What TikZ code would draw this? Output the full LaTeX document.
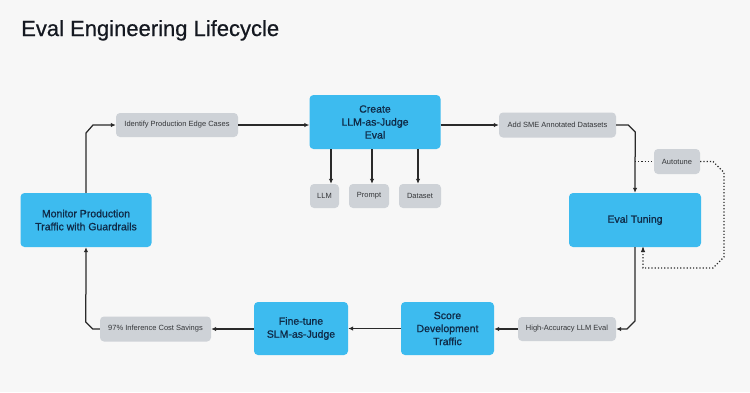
\documentclass[tikz,border=0pt]{standalone}
\usepackage{fontspec}
\setmainfont{Liberation Sans}
\newfontfamily\medfont{Liberation Sans}[FakeBold=0.9]
\newfontfamily\titlefont{Liberation Sans}[FakeBold=0.6]
\usetikzlibrary{arrows.meta}
\definecolor{bg}{HTML}{F7F7F7}
\definecolor{boxblue}{HTML}{3DBBEF}
\definecolor{navy}{HTML}{0F2A47}
\definecolor{boxgray}{HTML}{CED2D7}
\definecolor{graytext}{HTML}{333538}
\definecolor{linec}{HTML}{2A2A2A}
\definecolor{titlec}{HTML}{141820}
\tikzset{
  bluebox/.style={fill=boxblue, rounded corners=4pt, text=navy, align=center, inner sep=0pt,
    font=\medfont\fontsize{10.5}{13}\selectfont},
  graybox/.style={fill=boxgray, rounded corners=4pt, text=graytext, inner sep=0pt,
    font=\fontsize{7.5}{9}\selectfont},
  conn/.style={draw=linec, line width=1.25pt, -{Latex[length=5pt,width=4.5pt]}},
  dotconn/.style={draw=linec, line width=1.2pt, dotted},
}
\begin{document}
\begin{tikzpicture}[x=1pt,y=-1pt]
\fill[bg] (0,0) rectangle (750,392);
\node[anchor=base west, font=\titlefont\fontsize{22}{26}\selectfont, text=titlec, inner sep=0pt] (title) at (21,36) {Eval Engineering Lifecycle};

\node[bluebox, minimum width=131pt, minimum height=54pt] (create) at (375,122) {Create\\LLM-as-Judge\\Eval};
\node[bluebox, minimum width=132pt, minimum height=54pt] (tuning) at (635,220) {Eval Tuning};
\node[bluebox, minimum width=93pt, minimum height=53pt] (score) at (447.5,328.5) {Score\\Development\\Traffic};
\node[bluebox, minimum width=94pt, minimum height=53pt] (fine) at (301,328.5) {Fine-tune\\SLM-as-Judge};
\node[bluebox, minimum width=131pt, minimum height=54pt] (monitor) at (86,220) {Monitor Production\\Traffic with Guardrails};

\node[graybox, minimum width=122pt, minimum height=24pt] (identify) at (177,125) {Identify Production Edge Cases};
\node[graybox, minimum width=117pt, minimum height=25pt] (sme) at (557.5,125) {Add SME Annotated Datasets};
\node[graybox, minimum width=46pt, minimum height=25pt] (autotune) at (677,161.5) {Autotune};
\node[graybox, minimum width=98pt, minimum height=24pt] (high) at (567,329) {High-Accuracy LLM Eval};
\node[graybox, minimum width=111pt, minimum height=25pt] (savings) at (155.5,329) {97\% Inference Cost Savings};
\node[graybox, minimum width=29pt, minimum height=24pt] (llm) at (324.5,196) {LLM};
\node[graybox, minimum width=40pt, minimum height=24pt] (prompt) at (369,196) {Prompt};
\node[graybox, minimum width=42pt, minimum height=24pt] (dataset) at (420,196) {Dataset};

% main cycle
\draw[conn] (monitor.north) -- (monitor.north |- 0,133) -- ++(7,-8) -- (identify.west);
\draw[conn] (identify.east) -- (create.west |- identify.east);
\draw[conn] (create.east |- sme.west) -- (sme.west);
\draw[conn] (sme.east) -- ++(12,0) -- ++(7,7) -- (tuning.north);
\draw[conn] (tuning.south) -- (tuning.south |- 0,321) -- ++(-8,8) -- (high.east);
\draw[conn] (high.west) -- (score.east |- high.west);
\draw[conn] (score.west |- fine.east) -- (fine.east);
\draw[conn] (fine.west |- savings.east) -- (savings.east);
\draw[conn] (savings.west) -- ++(-7,0) -- ++(-7,-7) -- (monitor.south);

% create outputs
\draw[conn] (create.south -| 331,0) -- (llm.north -| 331,0);
\draw[conn] (create.south -| 372,0) -- (prompt.north -| 372,0);
\draw[conn] (create.south -| 418,0) -- (dataset.north -| 418,0);

% autotune loop
\draw[dotconn] (tuning.north |- autotune.west) -- (autotune.west);
\coordinate (a1) at (713,161.5);
\coordinate (a2) at (724,172.5);
\coordinate (a3) at (724,257);
\coordinate (a4) at (713,268);
\coordinate (a5) at (643,268);
\draw[dotconn] (autotune.east) -- (a1) -- (a2) -- (a3) -- (a4) -- (a5) -- (tuning.south -| a5);
\fill[linec] (tuning.south -| a5) -- ++(-2.2,5) -- ++(4.4,0) -- cycle;
\end{tikzpicture}
\end{document}
